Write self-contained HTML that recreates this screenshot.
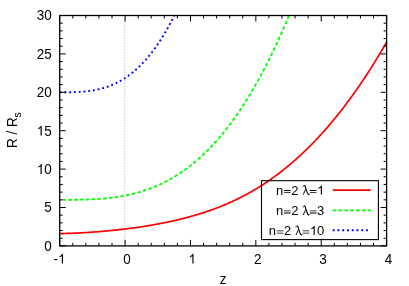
<!DOCTYPE html>
<html><head><meta charset="utf-8"><title>plot</title>
<style>
html,body{margin:0;padding:0;background:#fff;}
svg{display:block;will-change:transform;}
text{font-family:"Liberation Sans",sans-serif;font-size:13px;fill:#000;font-kerning:none;white-space:pre;}
text.t{font-size:14.20px;}
</style></head><body>
<svg width="409" height="286" viewBox="0 0 409 286">
<rect x="0" y="0" width="409" height="286" fill="#fff"/>
<path d="M124.73,245.90 V15.50" stroke="#b0b0b0" stroke-width="1" stroke-dasharray="1 1.84" fill="none"/>
<path d="M59.70,233.63 L60.35,233.62 L61.01,233.61 L61.66,233.59 L62.32,233.58 L62.97,233.56 L63.62,233.54 L64.28,233.53 L64.93,233.51 L65.58,233.49 L66.24,233.47 L66.89,233.45 L67.55,233.43 L68.20,233.41 L68.85,233.39 L69.51,233.36 L70.16,233.34 L70.81,233.32 L71.47,233.29 L72.12,233.26 L72.78,233.24 L73.43,233.21 L74.08,233.18 L74.74,233.15 L75.39,233.12 L76.05,233.09 L76.70,233.06 L77.35,233.03 L78.01,233.00 L78.66,232.97 L79.31,232.93 L79.97,232.90 L80.62,232.87 L81.28,232.83 L81.93,232.79 L82.58,232.76 L83.24,232.72 L83.89,232.68 L84.54,232.64 L85.20,232.60 L85.85,232.56 L86.51,232.52 L87.16,232.48 L87.81,232.44 L88.47,232.40 L89.12,232.36 L89.77,232.31 L90.43,232.27 L91.08,232.22 L91.74,232.18 L92.39,232.13 L93.04,232.08 L93.70,232.04 L94.35,231.99 L95.01,231.94 L95.66,231.89 L96.31,231.84 L96.97,231.79 L97.62,231.74 L98.27,231.69 L98.93,231.63 L99.58,231.58 L100.24,231.53 L100.89,231.47 L101.54,231.42 L102.20,231.36 L102.85,231.30 L103.50,231.25 L104.16,231.19 L104.81,231.13 L105.47,231.07 L106.12,231.01 L106.77,230.95 L107.43,230.89 L108.08,230.83 L108.74,230.77 L109.39,230.71 L110.04,230.64 L110.70,230.58 L111.35,230.51 L112.00,230.45 L112.66,230.38 L113.31,230.31 L113.97,230.25 L114.62,230.18 L115.27,230.11 L115.93,230.04 L116.58,229.97 L117.23,229.90 L117.89,229.83 L118.54,229.76 L119.20,229.68 L119.85,229.61 L120.50,229.54 L121.16,229.46 L121.81,229.39 L122.46,229.31 L123.12,229.23 L123.77,229.15 L124.43,229.08 L125.08,229.00 L125.73,228.92 L126.39,228.84 L127.04,228.76 L127.70,228.67 L128.35,228.59 L129.00,228.51 L129.66,228.42 L130.31,228.34 L130.96,228.25 L131.62,228.17 L132.27,228.08 L132.93,227.99 L133.58,227.90 L134.23,227.81 L134.89,227.72 L135.54,227.63 L136.19,227.54 L136.85,227.45 L137.50,227.35 L138.16,227.26 L138.81,227.16 L139.46,227.07 L140.12,226.97 L140.77,226.87 L141.43,226.77 L142.08,226.67 L142.73,226.57 L143.39,226.47 L144.04,226.37 L144.69,226.27 L145.35,226.17 L146.00,226.06 L146.66,225.96 L147.31,225.85 L147.96,225.74 L148.62,225.63 L149.27,225.53 L149.92,225.42 L150.58,225.30 L151.23,225.19 L151.89,225.08 L152.54,224.97 L153.19,224.85 L153.85,224.74 L154.50,224.62 L155.15,224.50 L155.81,224.39 L156.46,224.27 L157.12,224.15 L157.77,224.02 L158.42,223.90 L159.08,223.78 L159.73,223.66 L160.39,223.53 L161.04,223.40 L161.69,223.28 L162.35,223.15 L163.00,223.02 L163.65,222.89 L164.31,222.76 L164.96,222.62 L165.62,222.49 L166.27,222.36 L166.92,222.22 L167.58,222.08 L168.23,221.95 L168.88,221.81 L169.54,221.67 L170.19,221.52 L170.85,221.38 L171.50,221.24 L172.15,221.09 L172.81,220.95 L173.46,220.80 L174.12,220.65 L174.77,220.50 L175.42,220.35 L176.08,220.20 L176.73,220.05 L177.38,219.89 L178.04,219.74 L178.69,219.58 L179.35,219.42 L180.00,219.26 L180.65,219.10 L181.31,218.94 L181.96,218.78 L182.61,218.61 L183.27,218.45 L183.92,218.28 L184.58,218.11 L185.23,217.94 L185.88,217.77 L186.54,217.60 L187.19,217.43 L187.84,217.25 L188.50,217.07 L189.15,216.90 L189.81,216.72 L190.46,216.54 L191.11,216.35 L191.77,216.17 L192.42,215.99 L193.08,215.80 L193.73,215.61 L194.38,215.42 L195.04,215.23 L195.69,215.04 L196.34,214.84 L197.00,214.65 L197.65,214.45 L198.31,214.25 L198.96,214.05 L199.61,213.85 L200.27,213.65 L200.92,213.44 L201.57,213.23 L202.23,213.03 L202.88,212.82 L203.54,212.60 L204.19,212.39 L204.84,212.18 L205.50,211.96 L206.15,211.74 L206.81,211.52 L207.46,211.30 L208.11,211.07 L208.77,210.85 L209.42,210.62 L210.07,210.39 L210.73,210.16 L211.38,209.93 L212.04,209.70 L212.69,209.46 L213.34,209.22 L214.00,208.98 L214.65,208.74 L215.30,208.49 L215.96,208.25 L216.61,208.00 L217.27,207.75 L217.92,207.50 L218.57,207.25 L219.23,206.99 L219.88,206.73 L220.53,206.47 L221.19,206.21 L221.84,205.95 L222.50,205.68 L223.15,205.41 L223.80,205.14 L224.46,204.87 L225.11,204.60 L225.77,204.32 L226.42,204.04 L227.07,203.76 L227.73,203.48 L228.38,203.19 L229.03,202.90 L229.69,202.61 L230.34,202.32 L231.00,202.03 L231.65,201.73 L232.30,201.43 L232.96,201.13 L233.61,200.83 L234.26,200.52 L234.92,200.21 L235.57,199.90 L236.23,199.59 L236.88,199.27 L237.53,198.95 L238.19,198.63 L238.84,198.31 L239.50,197.99 L240.15,197.66 L240.80,197.33 L241.46,197.00 L242.11,196.66 L242.76,196.32 L243.42,195.98 L244.07,195.64 L244.73,195.29 L245.38,194.95 L246.03,194.60 L246.69,194.24 L247.34,193.89 L247.99,193.53 L248.65,193.17 L249.30,192.80 L249.96,192.44 L250.61,192.07 L251.26,191.69 L251.92,191.32 L252.57,190.94 L253.22,190.56 L253.88,190.18 L254.53,189.79 L255.19,189.41 L255.84,189.01 L256.49,188.62 L257.15,188.22 L257.80,187.82 L258.46,187.42 L259.11,187.02 L259.76,186.61 L260.42,186.20 L261.07,185.78 L261.72,185.37 L262.38,184.95 L263.03,184.53 L263.69,184.10 L264.34,183.67 L264.99,183.24 L265.65,182.81 L266.30,182.37 L266.95,181.93 L267.61,181.49 L268.26,181.04 L268.92,180.59 L269.57,180.14 L270.22,179.68 L270.88,179.23 L271.53,178.77 L272.19,178.30 L272.84,177.83 L273.49,177.36 L274.15,176.89 L274.80,176.42 L275.45,175.94 L276.11,175.45 L276.76,174.97 L277.42,174.48 L278.07,173.99 L278.72,173.49 L279.38,172.99 L280.03,172.49 L280.68,171.99 L281.34,171.48 L281.99,170.97 L282.65,170.46 L283.30,169.94 L283.95,169.42 L284.61,168.90 L285.26,168.37 L285.91,167.84 L286.57,167.31 L287.22,166.77 L287.88,166.23 L288.53,165.69 L289.18,165.14 L289.84,164.59 L290.49,164.04 L291.15,163.49 L291.80,162.93 L292.45,162.36 L293.11,161.80 L293.76,161.23 L294.41,160.66 L295.07,160.08 L295.72,159.50 L296.38,158.92 L297.03,158.33 L297.68,157.75 L298.34,157.15 L298.99,156.56 L299.64,155.96 L300.30,155.36 L300.95,154.75 L301.61,154.14 L302.26,153.53 L302.91,152.91 L303.57,152.29 L304.22,151.67 L304.88,151.04 L305.53,150.41 L306.18,149.78 L306.84,149.14 L307.49,148.50 L308.14,147.85 L308.80,147.21 L309.45,146.55 L310.11,145.90 L310.76,145.24 L311.41,144.58 L312.07,143.91 L312.72,143.24 L313.37,142.57 L314.03,141.90 L314.68,141.22 L315.34,140.53 L315.99,139.84 L316.64,139.15 L317.30,138.46 L317.95,137.76 L318.60,137.06 L319.26,136.35 L319.91,135.64 L320.57,134.93 L321.22,134.21 L321.87,133.49 L322.53,132.77 L323.18,132.04 L323.84,131.31 L324.49,130.57 L325.14,129.83 L325.80,129.09 L326.45,128.34 L327.10,127.59 L327.76,126.84 L328.41,126.08 L329.07,125.32 L329.72,124.55 L330.37,123.78 L331.03,123.01 L331.68,122.23 L332.33,121.45 L332.99,120.66 L333.64,119.87 L334.30,119.08 L334.95,118.28 L335.60,117.48 L336.26,116.67 L336.91,115.86 L337.57,115.05 L338.22,114.23 L338.87,113.41 L339.53,112.59 L340.18,111.76 L340.83,110.93 L341.49,110.09 L342.14,109.25 L342.80,108.40 L343.45,107.55 L344.10,106.70 L344.76,105.84 L345.41,104.98 L346.06,104.11 L346.72,103.25 L347.37,102.37 L348.03,101.49 L348.68,100.61 L349.33,99.72 L349.99,98.83 L350.64,97.94 L351.29,97.04 L351.95,96.14 L352.60,95.23 L353.26,94.32 L353.91,93.41 L354.56,92.49 L355.22,91.56 L355.87,90.63 L356.53,89.70 L357.18,88.77 L357.83,87.82 L358.49,86.88 L359.14,85.93 L359.79,84.98 L360.45,84.02 L361.10,83.06 L361.76,82.09 L362.41,81.12 L363.06,80.15 L363.72,79.17 L364.37,78.18 L365.02,77.20 L365.68,76.20 L366.33,75.21 L366.99,74.21 L367.64,73.20 L368.29,72.19 L368.95,71.18 L369.60,70.16 L370.26,69.14 L370.91,68.11 L371.56,67.08 L372.22,66.04 L372.87,65.00 L373.52,63.96 L374.18,62.91 L374.83,61.86 L375.49,60.80 L376.14,59.74 L376.79,58.67 L377.45,57.60 L378.10,56.53 L378.75,55.45 L379.41,54.36 L380.06,53.28 L380.72,52.18 L381.37,51.09 L382.02,49.98 L382.68,48.88 L383.33,47.77 L383.98,46.65 L384.64,45.53 L385.29,44.41 L385.95,43.28 L386.60,42.15" stroke="#ff0000" stroke-width="1.70" fill="none" stroke-linejoin="round"/>
<path d="M59.70,199.82 L60.35,199.82 L61.01,199.82 L61.66,199.82 L62.32,199.82 L62.97,199.82 L63.62,199.82 L64.28,199.82 L64.93,199.82 L65.58,199.82 L66.24,199.82 L66.89,199.81 L67.55,199.81 L68.20,199.81 L68.85,199.81 L69.51,199.81 L70.16,199.80 L70.81,199.80 L71.47,199.80 L72.12,199.79 L72.78,199.79 L73.43,199.78 L74.08,199.77 L74.74,199.77 L75.39,199.76 L76.05,199.75 L76.70,199.74 L77.35,199.74 L78.01,199.73 L78.66,199.72 L79.31,199.70 L79.97,199.69 L80.62,199.68 L81.28,199.67 L81.93,199.65 L82.58,199.64 L83.24,199.62 L83.89,199.60 L84.54,199.59 L85.20,199.57 L85.85,199.55 L86.51,199.53 L87.16,199.50 L87.81,199.48 L88.47,199.46 L89.12,199.43 L89.77,199.40 L90.43,199.38 L91.08,199.35 L91.74,199.32 L92.39,199.29 L93.04,199.25 L93.70,199.22 L94.35,199.18 L95.01,199.15 L95.66,199.11 L96.31,199.07 L96.97,199.03 L97.62,198.99 L98.27,198.94 L98.93,198.90 L99.58,198.85 L100.24,198.80 L100.89,198.75 L101.54,198.70 L102.20,198.65 L102.85,198.59 L103.50,198.53 L104.16,198.48 L104.81,198.42 L105.47,198.35 L106.12,198.29 L106.77,198.22 L107.43,198.16 L108.08,198.09 L108.74,198.02 L109.39,197.94 L110.04,197.87 L110.70,197.79 L111.35,197.71 L112.00,197.63 L112.66,197.55 L113.31,197.46 L113.97,197.38 L114.62,197.29 L115.27,197.20 L115.93,197.10 L116.58,197.01 L117.23,196.91 L117.89,196.81 L118.54,196.70 L119.20,196.60 L119.85,196.49 L120.50,196.38 L121.16,196.27 L121.81,196.16 L122.46,196.04 L123.12,195.92 L123.77,195.80 L124.43,195.67 L125.08,195.55 L125.73,195.42 L126.39,195.28 L127.04,195.15 L127.70,195.01 L128.35,194.87 L129.00,194.73 L129.66,194.58 L130.31,194.44 L130.96,194.29 L131.62,194.13 L132.27,193.97 L132.93,193.82 L133.58,193.65 L134.23,193.49 L134.89,193.32 L135.54,193.15 L136.19,192.97 L136.85,192.80 L137.50,192.62 L138.16,192.43 L138.81,192.25 L139.46,192.06 L140.12,191.87 L140.77,191.67 L141.43,191.47 L142.08,191.27 L142.73,191.07 L143.39,190.86 L144.04,190.65 L144.69,190.43 L145.35,190.21 L146.00,189.99 L146.66,189.77 L147.31,189.54 L147.96,189.30 L148.62,189.07 L149.27,188.83 L149.92,188.59 L150.58,188.34 L151.23,188.09 L151.89,187.84 L152.54,187.58 L153.19,187.32 L153.85,187.06 L154.50,186.79 L155.15,186.52 L155.81,186.24 L156.46,185.96 L157.12,185.68 L157.77,185.40 L158.42,185.11 L159.08,184.81 L159.73,184.51 L160.39,184.21 L161.04,183.90 L161.69,183.59 L162.35,183.28 L163.00,182.96 L163.65,182.64 L164.31,182.31 L164.96,181.98 L165.62,181.65 L166.27,181.31 L166.92,180.97 L167.58,180.62 L168.23,180.27 L168.88,179.91 L169.54,179.55 L170.19,179.19 L170.85,178.82 L171.50,178.45 L172.15,178.07 L172.81,177.69 L173.46,177.30 L174.12,176.91 L174.77,176.52 L175.42,176.12 L176.08,175.72 L176.73,175.31 L177.38,174.89 L178.04,174.48 L178.69,174.05 L179.35,173.63 L180.00,173.20 L180.65,172.76 L181.31,172.32 L181.96,171.87 L182.61,171.42 L183.27,170.97 L183.92,170.51 L184.58,170.04 L185.23,169.57 L185.88,169.09 L186.54,168.61 L187.19,168.13 L187.84,167.64 L188.50,167.14 L189.15,166.64 L189.81,166.14 L190.46,165.63 L191.11,165.11 L191.77,164.59 L192.42,164.07 L193.08,163.54 L193.73,163.00 L194.38,162.46 L195.04,161.91 L195.69,161.36 L196.34,160.80 L197.00,160.24 L197.65,159.67 L198.31,159.10 L198.96,158.52 L199.61,157.93 L200.27,157.34 L200.92,156.75 L201.57,156.15 L202.23,155.54 L202.88,154.93 L203.54,154.31 L204.19,153.69 L204.84,153.06 L205.50,152.42 L206.15,151.78 L206.81,151.14 L207.46,150.49 L208.11,149.83 L208.77,149.16 L209.42,148.49 L210.07,147.82 L210.73,147.14 L211.38,146.45 L212.04,145.76 L212.69,145.06 L213.34,144.35 L214.00,143.64 L214.65,142.93 L215.30,142.20 L215.96,141.47 L216.61,140.74 L217.27,140.00 L217.92,139.25 L218.57,138.49 L219.23,137.73 L219.88,136.97 L220.53,136.19 L221.19,135.42 L221.84,134.63 L222.50,133.84 L223.15,133.04 L223.80,132.24 L224.46,131.42 L225.11,130.61 L225.77,129.78 L226.42,128.95 L227.07,128.12 L227.73,127.27 L228.38,126.42 L229.03,125.57 L229.69,124.70 L230.34,123.83 L231.00,122.95 L231.65,122.07 L232.30,121.18 L232.96,120.28 L233.61,119.38 L234.26,118.47 L234.92,117.55 L235.57,116.63 L236.23,115.70 L236.88,114.76 L237.53,113.81 L238.19,112.86 L238.84,111.90 L239.50,110.94 L240.15,109.96 L240.80,108.98 L241.46,108.00 L242.11,107.00 L242.76,106.00 L243.42,104.99 L244.07,103.97 L244.73,102.95 L245.38,101.92 L246.03,100.88 L246.69,99.84 L247.34,98.78 L247.99,97.73 L248.65,96.66 L249.30,95.58 L249.96,94.50 L250.61,93.41 L251.26,92.31 L251.92,91.21 L252.57,90.10 L253.22,88.98 L253.88,87.85 L254.53,86.72 L255.19,85.57 L255.84,84.42 L256.49,83.27 L257.15,82.10 L257.80,80.93 L258.46,79.75 L259.11,78.56 L259.76,77.36 L260.42,76.16 L261.07,74.94 L261.72,73.72 L262.38,72.50 L263.03,71.26 L263.69,70.02 L264.34,68.76 L264.99,67.50 L265.65,66.23 L266.30,64.96 L266.95,63.67 L267.61,62.38 L268.26,61.08 L268.92,59.77 L269.57,58.46 L270.22,57.13 L270.88,55.80 L271.53,54.45 L272.19,53.10 L272.84,51.75 L273.49,50.38 L274.15,49.00 L274.80,47.62 L275.45,46.23 L276.11,44.83 L276.76,43.42 L277.42,42.00 L278.07,40.58 L278.72,39.14 L279.38,37.70 L280.03,36.25 L280.68,34.78 L281.34,33.32 L281.99,31.84 L282.65,30.35 L283.30,28.86 L283.95,27.35 L284.61,25.84 L285.26,24.32 L285.91,22.79 L286.57,21.25 L287.22,19.70 L287.88,18.14 L288.53,16.58 L288.98,15.50" stroke="#00ff00" stroke-width="1.80" fill="none" stroke-dasharray="3.6 2.2" stroke-dashoffset="3.0" stroke-linejoin="round"/>
<path d="M59.70,92.30 L60.35,92.30 L61.01,92.30 L61.66,92.30 L62.32,92.30 L62.97,92.30 L63.62,92.30 L64.28,92.30 L64.93,92.29 L65.58,92.29 L66.24,92.29 L66.89,92.28 L67.55,92.28 L68.20,92.27 L68.85,92.26 L69.51,92.25 L70.16,92.24 L70.81,92.23 L71.47,92.22 L72.12,92.20 L72.78,92.19 L73.43,92.17 L74.08,92.15 L74.74,92.13 L75.39,92.10 L76.05,92.08 L76.70,92.05 L77.35,92.02 L78.01,91.99 L78.66,91.95 L79.31,91.92 L79.97,91.88 L80.62,91.83 L81.28,91.79 L81.93,91.74 L82.58,91.69 L83.24,91.64 L83.89,91.58 L84.54,91.52 L85.20,91.45 L85.85,91.39 L86.51,91.32 L87.16,91.24 L87.81,91.17 L88.47,91.09 L89.12,91.00 L89.77,90.91 L90.43,90.82 L91.08,90.72 L91.74,90.62 L92.39,90.52 L93.04,90.41 L93.70,90.30 L94.35,90.18 L95.01,90.06 L95.66,89.93 L96.31,89.80 L96.97,89.66 L97.62,89.52 L98.27,89.37 L98.93,89.22 L99.58,89.07 L100.24,88.90 L100.89,88.74 L101.54,88.57 L102.20,88.39 L102.85,88.20 L103.50,88.02 L104.16,87.82 L104.81,87.62 L105.47,87.41 L106.12,87.20 L106.77,86.98 L107.43,86.76 L108.08,86.53 L108.74,86.29 L109.39,86.05 L110.04,85.80 L110.70,85.54 L111.35,85.28 L112.00,85.01 L112.66,84.73 L113.31,84.44 L113.97,84.15 L114.62,83.86 L115.27,83.55 L115.93,83.24 L116.58,82.92 L117.23,82.59 L117.89,82.26 L118.54,81.91 L119.20,81.56 L119.85,81.21 L120.50,80.84 L121.16,80.47 L121.81,80.09 L122.46,79.70 L123.12,79.30 L123.77,78.89 L124.43,78.48 L125.08,78.05 L125.73,77.62 L126.39,77.18 L127.04,76.73 L127.70,76.27 L128.35,75.81 L129.00,75.33 L129.66,74.85 L130.31,74.35 L130.96,73.85 L131.62,73.34 L132.27,72.82 L132.93,72.28 L133.58,71.74 L134.23,71.19 L134.89,70.63 L135.54,70.06 L136.19,69.48 L136.85,68.89 L137.50,68.29 L138.16,67.68 L138.81,67.06 L139.46,66.43 L140.12,65.79 L140.77,65.14 L141.43,64.47 L142.08,63.80 L142.73,63.12 L143.39,62.42 L144.04,61.72 L144.69,61.00 L145.35,60.27 L146.00,59.53 L146.66,58.78 L147.31,58.02 L147.96,57.25 L148.62,56.46 L149.27,55.67 L149.92,54.86 L150.58,54.04 L151.23,53.21 L151.89,52.36 L152.54,51.51 L153.19,50.64 L153.85,49.76 L154.50,48.87 L155.15,47.96 L155.81,47.05 L156.46,46.12 L157.12,45.17 L157.77,44.22 L158.42,43.25 L159.08,42.27 L159.73,41.28 L160.39,40.27 L161.04,39.25 L161.69,38.21 L162.35,37.17 L163.00,36.11 L163.65,35.03 L164.31,33.95 L164.96,32.85 L165.62,31.73 L166.27,30.60 L166.92,29.46 L167.58,28.30 L168.23,27.13 L168.88,25.95 L169.54,24.75 L170.19,23.54 L170.85,22.31 L171.50,21.06 L172.15,19.81 L172.81,18.54 L173.46,17.25 L174.12,15.95 L174.34,15.50" stroke="#0000ff" stroke-width="1.90" fill="none" stroke-dasharray="1.9 2.86" stroke-linejoin="round"/>
<rect x="261.50" y="180.70" width="116.90" height="58.90" fill="none" stroke="#000" stroke-width="1.1"/>
<text x="275.90" y="194.60">n</text>
<path transform="translate(283.13,194.60)" d="M0.9,-4.55H7.55V-3.7H0.9Z M0.9,-2.35H7.55V-1.5H0.9Z" fill="#000"/>
<text x="291.28" y="194.60">2</text>
<g transform="translate(302.35,194.60)" fill="none" stroke="#000" stroke-linecap="butt"><path d="M0.8,-7.5 C0.85,-8.6 1.3,-9.3 1.95,-9.3 C2.35,-9.3 2.6,-8.9 2.8,-8.3" stroke-width="0.8"/><path d="M2.3,-9.1 C2.8,-8.6 3.1,-7.5 3.8,-5.1 L5.0,-1.7 C5.35,-0.6 5.6,-0.05 6.05,-0.05 C6.4,-0.05 6.75,-0.35 6.95,-0.9" stroke-width="1.1"/><path d="M3.5,-5.6 L0.85,0.0" stroke-width="0.95"/></g>
<path transform="translate(308.95,194.60)" d="M0.9,-4.55H7.55V-3.7H0.9Z M0.9,-2.35H7.55V-1.5H0.9Z" fill="#000"/>
<path transform="translate(317.10,194.60) scale(0.00635,-0.00611)" d="M763 0H583V1147Q518 1085 412.5 1023Q307 961 223 930V1104Q374 1175 487 1276Q600 1377 647 1472H763Z" fill="#000"/>
<path d="M332.7,190.10 H370.8" stroke="#ff0000" stroke-width="1.70" fill="none" />
<text x="275.90" y="214.95">n</text>
<path transform="translate(283.13,214.95)" d="M0.9,-4.55H7.55V-3.7H0.9Z M0.9,-2.35H7.55V-1.5H0.9Z" fill="#000"/>
<text x="291.28" y="214.95">2</text>
<g transform="translate(302.35,214.95)" fill="none" stroke="#000" stroke-linecap="butt"><path d="M0.8,-7.5 C0.85,-8.6 1.3,-9.3 1.95,-9.3 C2.35,-9.3 2.6,-8.9 2.8,-8.3" stroke-width="0.8"/><path d="M2.3,-9.1 C2.8,-8.6 3.1,-7.5 3.8,-5.1 L5.0,-1.7 C5.35,-0.6 5.6,-0.05 6.05,-0.05 C6.4,-0.05 6.75,-0.35 6.95,-0.9" stroke-width="1.1"/><path d="M3.5,-5.6 L0.85,0.0" stroke-width="0.95"/></g>
<path transform="translate(308.95,214.95)" d="M0.9,-4.55H7.55V-3.7H0.9Z M0.9,-2.35H7.55V-1.5H0.9Z" fill="#000"/>
<text x="317.10" y="214.95">3</text>
<path d="M332.7,210.30 H370.8" stroke="#00ff00" stroke-width="1.80" fill="none" stroke-dasharray="3.6 2.2"/>
<text x="268.67" y="235.00">n</text>
<path transform="translate(275.90,235.00)" d="M0.9,-4.55H7.55V-3.7H0.9Z M0.9,-2.35H7.55V-1.5H0.9Z" fill="#000"/>
<text x="284.05" y="235.00">2</text>
<g transform="translate(295.12,235.00)" fill="none" stroke="#000" stroke-linecap="butt"><path d="M0.8,-7.5 C0.85,-8.6 1.3,-9.3 1.95,-9.3 C2.35,-9.3 2.6,-8.9 2.8,-8.3" stroke-width="0.8"/><path d="M2.3,-9.1 C2.8,-8.6 3.1,-7.5 3.8,-5.1 L5.0,-1.7 C5.35,-0.6 5.6,-0.05 6.05,-0.05 C6.4,-0.05 6.75,-0.35 6.95,-0.9" stroke-width="1.1"/><path d="M3.5,-5.6 L0.85,0.0" stroke-width="0.95"/></g>
<path transform="translate(301.72,235.00)" d="M0.9,-4.55H7.55V-3.7H0.9Z M0.9,-2.35H7.55V-1.5H0.9Z" fill="#000"/>
<path transform="translate(309.87,235.00) scale(0.00635,-0.00611)" d="M763 0H583V1147Q518 1085 412.5 1023Q307 961 223 930V1104Q374 1175 487 1276Q600 1377 647 1472H763Z" fill="#000"/>
<text x="317.10" y="235.00">0</text>
<path d="M332.7,230.20 H370.8" stroke="#0000ff" stroke-width="1.90" fill="none" stroke-dasharray="1.9 2.86"/>
<path d="M59.70,245.90 v-6.00 M59.70,15.50 v6.00 M72.78,245.90 v-3.00 M72.78,15.50 v3.00 M85.85,245.90 v-3.00 M85.85,15.50 v3.00 M98.93,245.90 v-3.00 M98.93,15.50 v3.00 M112.00,245.90 v-3.00 M112.00,15.50 v3.00 M125.08,245.90 v-6.00 M125.08,15.50 v6.00 M138.16,245.90 v-3.00 M138.16,15.50 v3.00 M151.23,245.90 v-3.00 M151.23,15.50 v3.00 M164.31,245.90 v-3.00 M164.31,15.50 v3.00 M177.38,245.90 v-3.00 M177.38,15.50 v3.00 M190.46,245.90 v-6.00 M190.46,15.50 v6.00 M203.54,245.90 v-3.00 M203.54,15.50 v3.00 M216.61,245.90 v-3.00 M216.61,15.50 v3.00 M229.69,245.90 v-3.00 M229.69,15.50 v3.00 M242.76,245.90 v-3.00 M242.76,15.50 v3.00 M255.84,245.90 v-6.00 M255.84,15.50 v6.00 M268.92,245.90 v-3.00 M268.92,15.50 v3.00 M281.99,245.90 v-3.00 M281.99,15.50 v3.00 M295.07,245.90 v-3.00 M295.07,15.50 v3.00 M308.14,245.90 v-3.00 M308.14,15.50 v3.00 M321.22,245.90 v-6.00 M321.22,15.50 v6.00 M334.30,245.90 v-3.00 M334.30,15.50 v3.00 M347.37,245.90 v-3.00 M347.37,15.50 v3.00 M360.45,245.90 v-3.00 M360.45,15.50 v3.00 M373.52,245.90 v-3.00 M373.52,15.50 v3.00 M386.60,245.90 v-6.00 M386.60,15.50 v6.00 M59.70,245.90 h6.00 M386.60,245.90 h-6.00 M59.70,238.22 h3.00 M386.60,238.22 h-3.00 M59.70,230.54 h3.00 M386.60,230.54 h-3.00 M59.70,222.86 h3.00 M386.60,222.86 h-3.00 M59.70,215.18 h3.00 M386.60,215.18 h-3.00 M59.70,207.50 h6.00 M386.60,207.50 h-6.00 M59.70,199.82 h3.00 M386.60,199.82 h-3.00 M59.70,192.14 h3.00 M386.60,192.14 h-3.00 M59.70,184.46 h3.00 M386.60,184.46 h-3.00 M59.70,176.78 h3.00 M386.60,176.78 h-3.00 M59.70,169.10 h6.00 M386.60,169.10 h-6.00 M59.70,161.42 h3.00 M386.60,161.42 h-3.00 M59.70,153.74 h3.00 M386.60,153.74 h-3.00 M59.70,146.06 h3.00 M386.60,146.06 h-3.00 M59.70,138.38 h3.00 M386.60,138.38 h-3.00 M59.70,130.70 h6.00 M386.60,130.70 h-6.00 M59.70,123.02 h3.00 M386.60,123.02 h-3.00 M59.70,115.34 h3.00 M386.60,115.34 h-3.00 M59.70,107.66 h3.00 M386.60,107.66 h-3.00 M59.70,99.98 h3.00 M386.60,99.98 h-3.00 M59.70,92.30 h6.00 M386.60,92.30 h-6.00 M59.70,84.62 h3.00 M386.60,84.62 h-3.00 M59.70,76.94 h3.00 M386.60,76.94 h-3.00 M59.70,69.26 h3.00 M386.60,69.26 h-3.00 M59.70,61.58 h3.00 M386.60,61.58 h-3.00 M59.70,53.90 h6.00 M386.60,53.90 h-6.00 M59.70,46.22 h3.00 M386.60,46.22 h-3.00 M59.70,38.54 h3.00 M386.60,38.54 h-3.00 M59.70,30.86 h3.00 M386.60,30.86 h-3.00 M59.70,23.18 h3.00 M386.60,23.18 h-3.00 M59.70,15.50 h6.00 M386.60,15.50 h-6.00" stroke="#000" stroke-width="1.00" fill="none"/>
<rect x="59.70" y="15.50" width="326.90" height="230.40" fill="none" stroke="#000" stroke-width="1.30"/>
<text class="t" transform="translate(44.20,250.70) scale(0.950,1)">0</text>
<text class="t" transform="translate(44.20,212.30) scale(0.950,1)">5</text>
<path transform="translate(36.70,173.90) scale(0.00659,-0.00667)" d="M763 0H583V1147Q518 1085 412.5 1023Q307 961 223 930V1104Q374 1175 487 1276Q600 1377 647 1472H763Z" fill="#000"/>
<text class="t" transform="translate(44.20,173.90) scale(0.950,1)">0</text>
<path transform="translate(36.70,135.50) scale(0.00659,-0.00667)" d="M763 0H583V1147Q518 1085 412.5 1023Q307 961 223 930V1104Q374 1175 487 1276Q600 1377 647 1472H763Z" fill="#000"/>
<text class="t" transform="translate(44.20,135.50) scale(0.950,1)">5</text>
<text class="t" transform="translate(36.70,97.10) scale(0.950,1)">20</text>
<text class="t" transform="translate(36.70,58.70) scale(0.950,1)">25</text>
<text class="t" transform="translate(36.70,20.30) scale(0.950,1)">30</text>
<text class="t" transform="translate(53.50,263.60) scale(0.950,1)">-</text>
<path transform="translate(57.99,263.60) scale(0.00659,-0.00667)" d="M763 0H583V1147Q518 1085 412.5 1023Q307 961 223 930V1104Q374 1175 487 1276Q600 1377 647 1472H763Z" fill="#000"/>
<text class="t" transform="translate(123.13,263.60) scale(0.950,1)">0</text>
<path transform="translate(188.51,263.60) scale(0.00659,-0.00667)" d="M763 0H583V1147Q518 1085 412.5 1023Q307 961 223 930V1104Q374 1175 487 1276Q600 1377 647 1472H763Z" fill="#000"/>
<text class="t" transform="translate(253.89,263.60) scale(0.950,1)">2</text>
<text class="t" transform="translate(319.27,263.60) scale(0.950,1)">3</text>
<text class="t" transform="translate(384.65,263.60) scale(0.950,1)">4</text>
<text class="t" transform="translate(223.1,283.6) scale(0.950,1)" text-anchor="middle">z</text>
<text class="t" transform="translate(16.9,147.9) rotate(-90) scale(0.950,1)">R / R<tspan font-size="11.2px" dx="-0.4" dy="3.7">s</tspan></text>
</svg>
</body></html>
